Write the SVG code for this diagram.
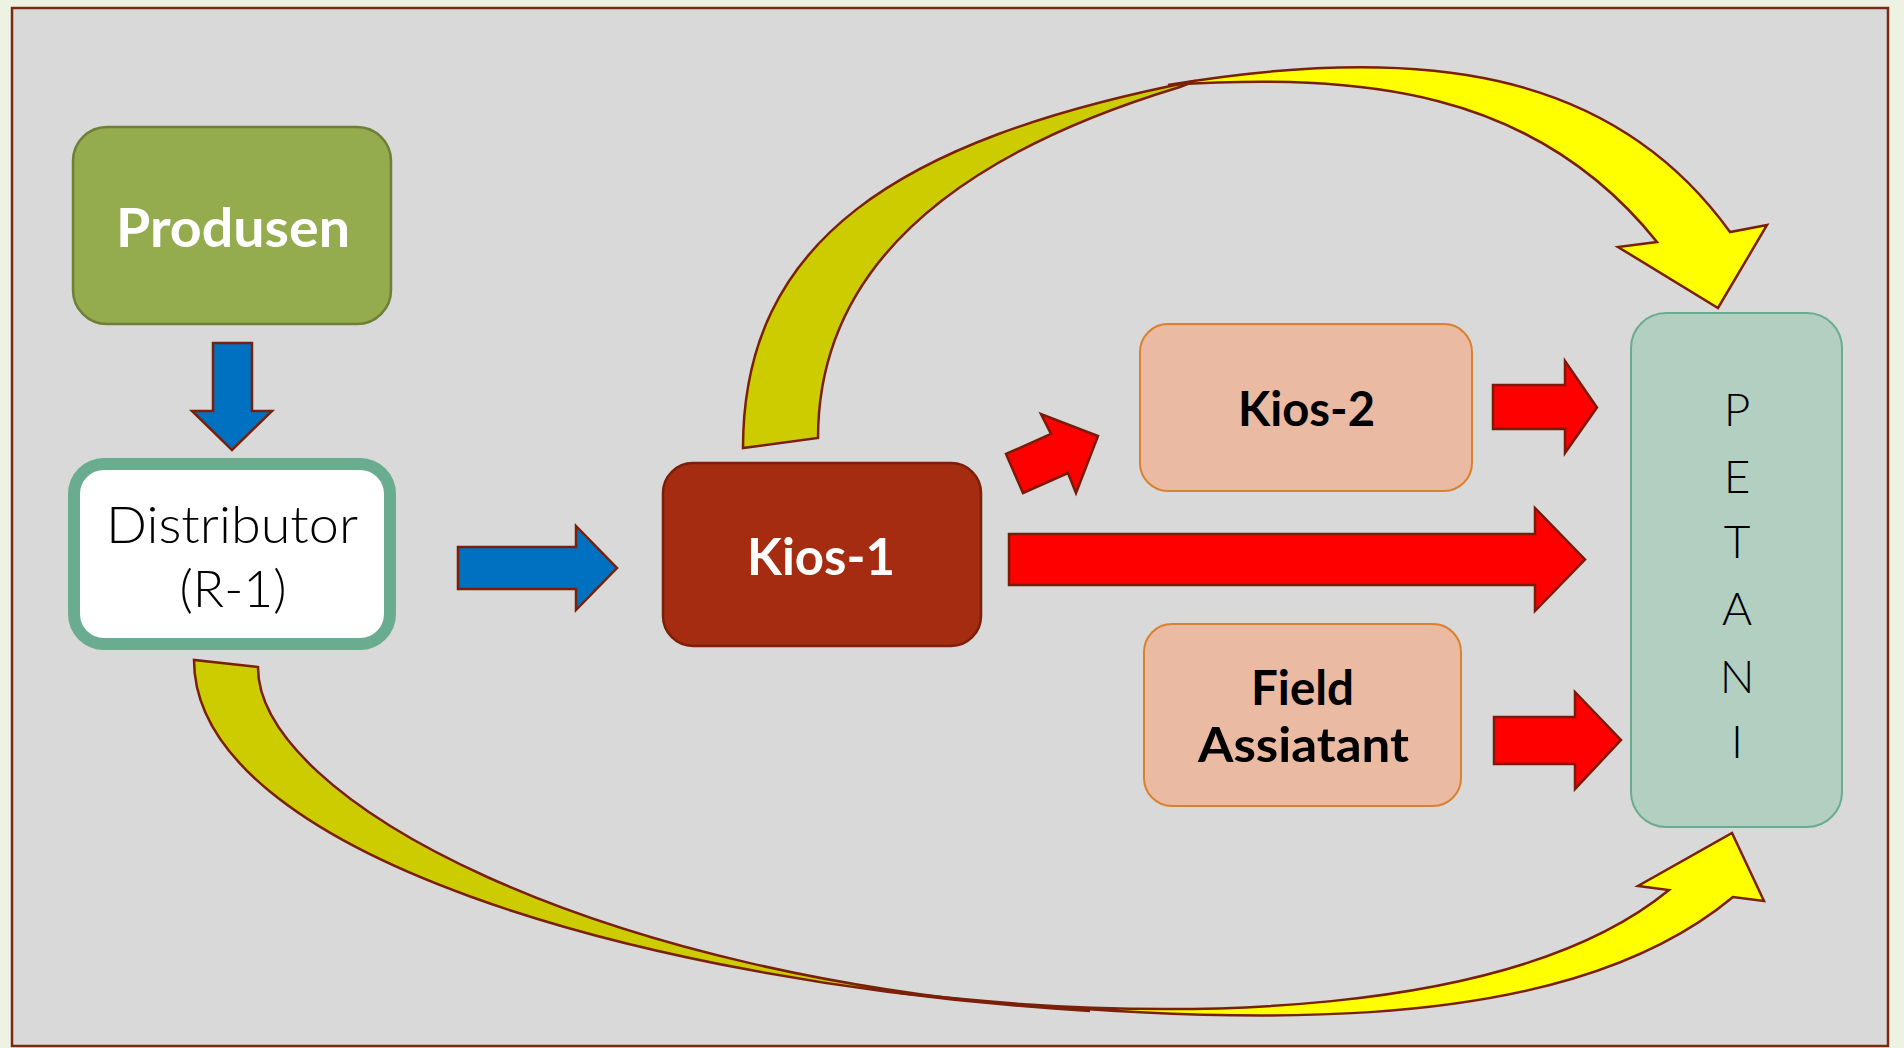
<svg xmlns="http://www.w3.org/2000/svg" width="1904" height="1048" viewBox="0 0 1904 1048">
  <defs>
    <style>
      .lbl { font-family: Lato, "Liberation Sans", sans-serif; text-anchor: middle; }
      .bold { font-weight: 700; }
      .thin { font-weight: 300; }
      .blue { fill: #0070c0; stroke: #7a2008; stroke-width: 2.5; stroke-linejoin: miter; }
      .red { fill: #ff0000; stroke: #7a1a08; stroke-width: 2.5; stroke-linejoin: miter; }
      .ydark { fill: #cccc00; stroke: #7a2008; stroke-width: 2.5; stroke-linejoin: miter; }
      .ybright { fill: #ffff00; stroke: #7a2008; stroke-width: 2.5; stroke-linejoin: miter; }
      .peach { fill: #ebbaa3; stroke: #d9812f; stroke-width: 2; }
    </style>
  </defs>

  <rect x="0" y="0" width="1904" height="1048" fill="#eef2e2"/>
  <rect id="frame" x="12" y="8" width="1876" height="1038" fill="#d9d9d9" stroke="#7a2a10" stroke-width="2.5"/>

  <g id="produsen">
    <rect x="73" y="127" width="318" height="197" rx="34" fill="#94ab4e" stroke="#6e7f38" stroke-width="2.5"/>
    <text class="lbl bold" x="233" y="247" font-size="54" fill="#ffffff" textLength="234" lengthAdjust="spacingAndGlyphs">Produsen</text>
  </g>

  <g id="distributor">
    <rect x="74" y="464" width="316" height="180" rx="30" fill="#ffffff" stroke="#6aac90" stroke-width="12"/>
    <text class="lbl thin" x="232" y="543" font-size="51" fill="#000000" textLength="252" lengthAdjust="spacingAndGlyphs">Distributor</text>
    <text class="lbl thin" x="233" y="607" font-size="51" fill="#000000" textLength="107" lengthAdjust="spacingAndGlyphs">(R-1)</text>
  </g>

  <g id="kios1">
    <rect x="663" y="463" width="318" height="183" rx="30" fill="#a52c10" stroke="#7a2008" stroke-width="2.5"/>
    <text class="lbl bold" x="821" y="575" font-size="51" fill="#ffffff" textLength="148" lengthAdjust="spacingAndGlyphs">Kios-1</text>
  </g>

  <g id="kios2">
    <rect class="peach" x="1140" y="324" width="332" height="167" rx="28"/>
    <text class="lbl bold" x="1306.5" y="426" font-size="48" fill="#000000" textLength="137" lengthAdjust="spacingAndGlyphs">Kios-2</text>
  </g>

  <g id="field-assiatant">
    <rect class="peach" x="1144" y="624" width="317" height="182" rx="28"/>
    <text class="lbl bold" x="1302.5" y="705" font-size="47" fill="#000000" textLength="103" lengthAdjust="spacingAndGlyphs">Field</text>
    <text class="lbl bold" x="1303.5" y="762" font-size="47" fill="#000000" textLength="211" lengthAdjust="spacingAndGlyphs">Assiatant</text>
  </g>

  <g id="petani">
    <rect x="1631" y="313" width="211" height="514" rx="35" fill="#b3cfc2" stroke="#6aac90" stroke-width="2"/>
    <text class="lbl thin" x="1737" y="426" font-size="46" fill="#000000">P</text>
    <text class="lbl thin" x="1737" y="492.7" font-size="46" fill="#000000">E</text>
    <text class="lbl thin" x="1737" y="558.3" font-size="46" fill="#000000">T</text>
    <text class="lbl thin" x="1737" y="625" font-size="46" fill="#000000">A</text>
    <text class="lbl thin" x="1737" y="692.7" font-size="46" fill="#000000">N</text>
    <text class="lbl thin" x="1737" y="758.3" font-size="46" fill="#000000">I</text>
  </g>

  <g id="connectors">
    <!-- Produsen -> Distributor -->
    <polygon class="blue" points="213,343 252,343 252,411 272,411 232,450 192,411 213,411"/>
    <!-- Distributor -> Kios-1 -->
    <polygon class="blue" points="458,547 576,547 576,526 617,568 576,610 576,589 458,589"/>
    <!-- Kios-1 -> Kios-2 -->
    <polygon class="red" points="1006,454 1051,434 1041,414 1098,436 1076,493 1068,473 1023,493"/>
    <!-- Kios-2 -> PETANI -->
    <polygon class="red" points="1493,385 1565,385 1565,361 1597,407.5 1565,453 1565,429 1493,429"/>
    <!-- Kios-1 -> PETANI -->
    <polygon class="red" points="1009,534 1535,534 1535,508 1585,559.5 1535,611 1535,585 1009,585"/>
    <!-- Field Assiatant -> PETANI -->
    <polygon class="red" points="1494,717 1575,717 1575,692 1621,740 1575,789 1575,764 1494,764"/>

    <!-- Kios-1 -> PETANI (curved over the top) -->
    <path class="ydark" d="M743,448 C743,242 895,140 1195,81 L1180,87 C1041,129 818,221 818,438 Z"/>
    <path class="ybright" d="M1168,85 C1419,43 1612,68 1730,232 L1767,225 L1718,308 L1618,247 L1657,242 C1534,88 1360,73 1168,85 Z"/>

    <!-- Distributor -> PETANI (curved along the bottom) -->
    <path class="ydark" d="M194,660 C194,850 630,983 1090,1011 C590,981 257,797 258,667 Z"/>
    <path class="ybright" d="M900,993 C1220,1025 1556,1044 1733,897 L1764,901 L1732,833 L1638,886 L1669,890 C1514,1017 1180,1025 900,993 Z"/>
  </g>
</svg>
